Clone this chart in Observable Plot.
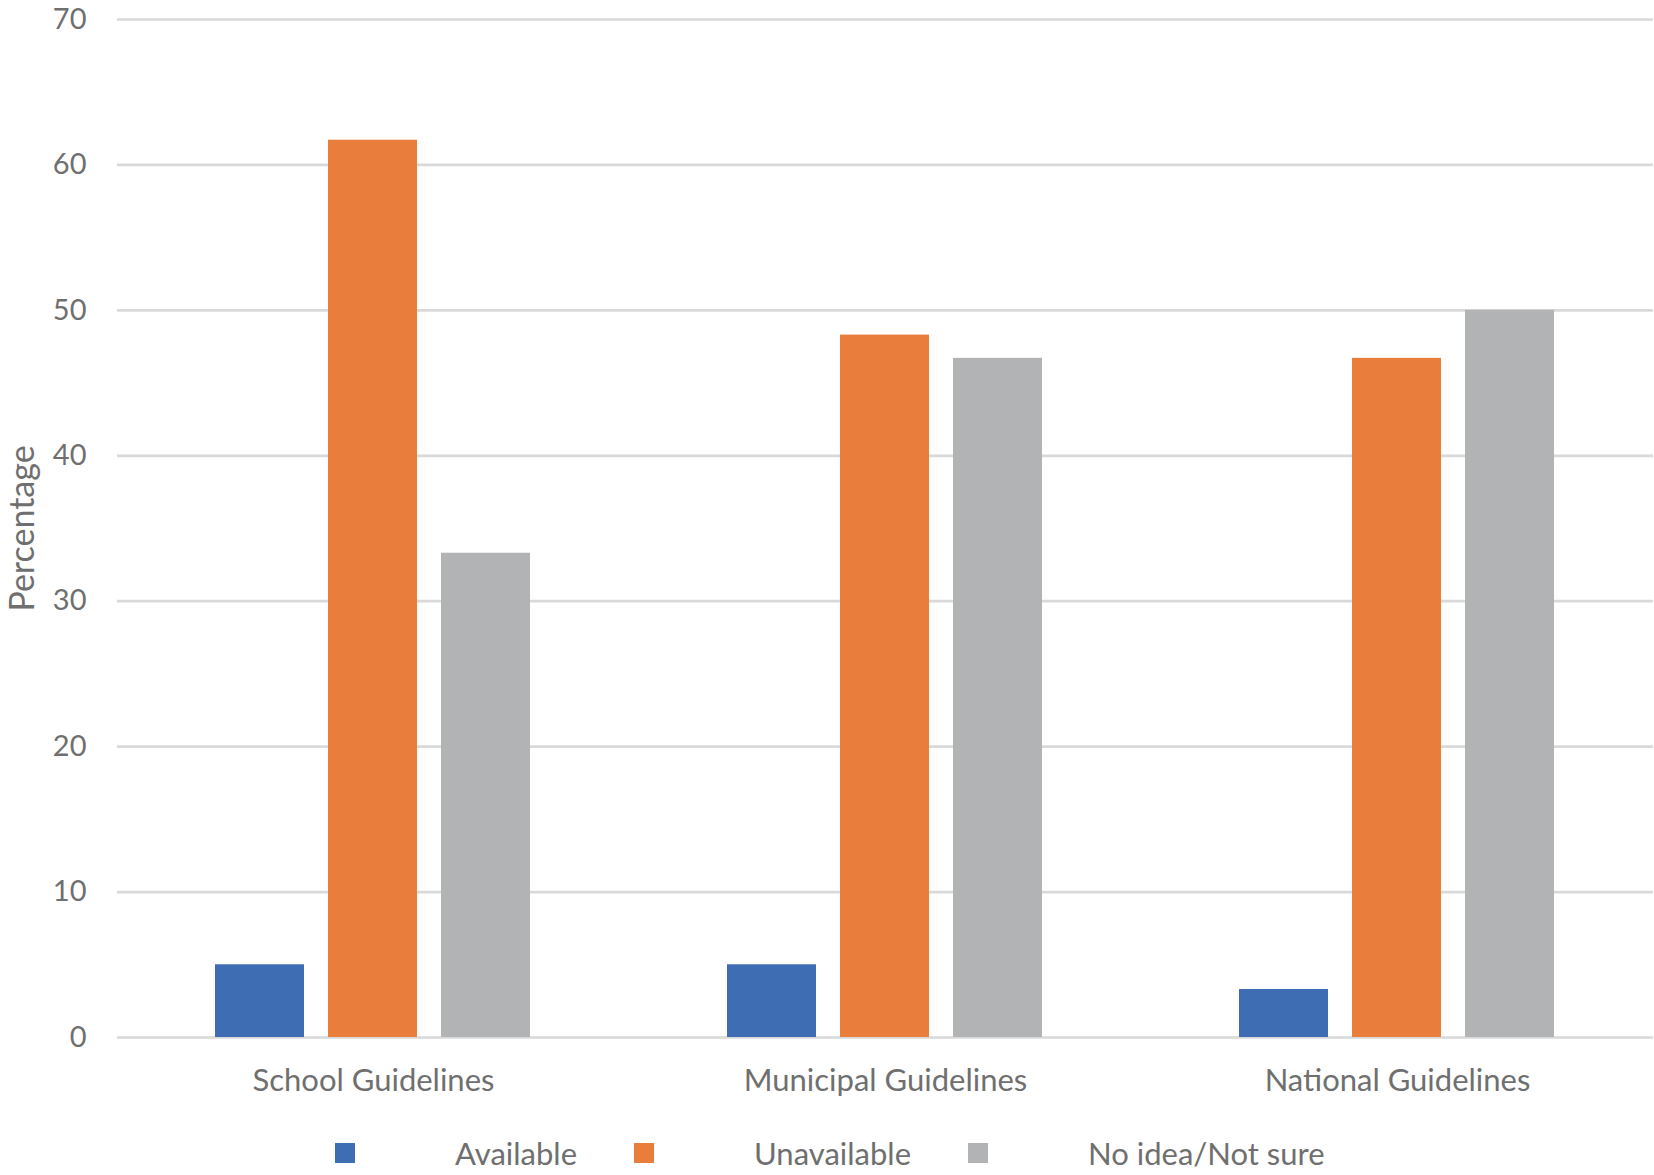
<!DOCTYPE html>
<html>
<head>
<meta charset="utf-8">
<script src="https://cdn.jsdelivr.net/npm/d3@7"></script>
<script src="https://cdn.jsdelivr.net/npm/@observablehq/plot@0.6"></script>
<style>
  html, body { margin: 0; padding: 0; background: #fff; }
  body { width: 1654px; height: 1175px; overflow: hidden; font-family: Lato, "Open Sans", sans-serif; }
  #chart svg { display: block; }
  #legend { display: flex; align-items: center; padding-left: 335px; margin-top: 22px; font-size: 31px; color: #6f6f6f; }
  #legend .sw { width: 20px; height: 20px; margin-right: 100px; }
  #legend .lb { margin-right: 57px; }
</style>
</head>
<body>
<div id="chart"></div>
<div id="legend"></div>
<script>
const categories = ["School Guidelines", "Municipal Guidelines", "National Guidelines"];
const series = ["Available", "Unavailable", "No idea/Not sure"];
const available = [5.0, 5.0, 3.3];
const unavailable = [61.7, 48.3, 46.7];
const noIdea = [33.3, 46.7, 50.0];
const yTicks = [0, 10, 20, 30, 40, 50, 60, 70];
const colors = ["#3e6db3", "#e97d3c", "#b2b3b4"];

const values = [available, unavailable, noIdea];
const data = [];
categories.forEach((c, i) => {
  series.forEach((s, j) => data.push({category: c, series: s, value: values[j][i]}));
});

const textColor = "#6f6f6f";
const chart = Plot.plot({
  width: 1654,
  height: 1112,
  marginTop: 19,
  marginBottom: 75,
  marginLeft: 116,
  marginRight: 0,
  style: {fontFamily: "Lato, 'Open Sans', sans-serif", fontSize: "29px", color: textColor, background: "#fff"},
  fx: {domain: categories, padding: 0, label: null},
  x: {domain: series, paddingInner: 0.21, paddingOuter: 0.854, axis: null},
  y: {domain: [0, 70], label: null},
  color: {domain: series, range: colors},
  marks: [
    Plot.gridY(yTicks, {stroke: "#d9d9d9", strokeOpacity: 1, strokeWidth: 2.7}),
    Plot.barY(data, {fx: "category", x: "series", y: "value", fill: "series"}),
    Plot.axisY(yTicks, {tickSize: 0, tickPadding: 31, fontSize: 29, fill: textColor, label: null}),
    Plot.axisFx({anchor: "bottom", tickSize: 0, tickPadding: 31, fontSize: 31, fill: textColor, label: null}),
    Plot.text(["Percentage"], {frameAnchor: "left", textAnchor: "middle", lineAnchor: "middle", dx: -94, rotate: -90, fontSize: 34, fill: textColor, facet: "super"})
  ]
});
document.getElementById("chart").appendChild(chart);

const legend = document.getElementById("legend");
series.forEach((s, i) => {
  const sw = document.createElement("div");
  sw.className = "sw";
  sw.style.background = colors[i];
  const lb = document.createElement("div");
  lb.className = "lb";
  lb.textContent = s;
  legend.appendChild(sw);
  legend.appendChild(lb);
});
</script>
</body>
</html>
